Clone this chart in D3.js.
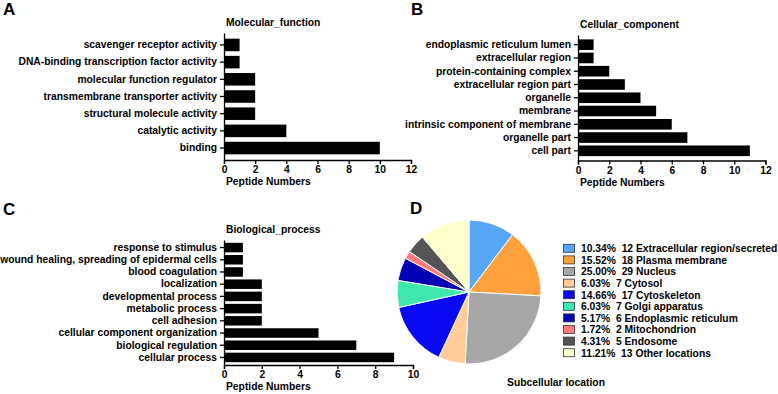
<!DOCTYPE html>
<html>
<head>
<meta charset="utf-8">
<script src="https://cdn.jsdelivr.net/npm/d3@7"></script>
<style>
body{margin:0;background:#fff;}
svg text{font-family:"Liberation Sans",Arial,sans-serif;font-weight:bold;fill:#000;}
.axis path,.axis line{stroke:#000;stroke-width:1.3;}
.axis text{font-size:10.3px;}
</style>
</head>
<body>
<svg id="chart" width="778" height="394"></svg>
<script>
var mfCats=["scavenger receptor activity","DNA-binding transcription factor activity","molecular function regulator","transmembrane transporter activity","structural molecule activity","catalytic activity","binding"];
var mfVals=[1,1,2,2,2,4,10];
var ccCats=["endoplasmic reticulum lumen","extracellular region","protein-containing complex","extracellular region part","organelle","membrane","intrinsic component of membrane","organelle part","cell part"];
var ccVals=[1,1,2,3,4,5,6,7,11];
var bpCats=["response to stimulus","wound healing, spreading of epidermal cells","blood coagulation","localization","developmental process","metabolic process","cell adhesion","cellular component organization","biological regulation","cellular process"];
var bpVals=[1,1,1,2,2,2,2,5,7,9];
var locNames=["Extracellular region/secreted","Plasma membrane","Nucleus","Cytosol","Cytoskeleton","Golgi apparatus","Endoplasmic reticulum","Mitochondrion","Endosome","Other locations"];
var locCounts=[12,18,29,7,17,7,6,2,5,13];
var locPct=["10.34%","15.52%","25.00%","6.03%","14.66%","6.03%","5.17%","1.72%","4.31%","11.21%"];
var locColors=["#58a6f8","#ffa23e","#a7a7aa","#ffcc99","#0a0af2","#3ee8ad","#0202b4","#ff7a7a","#545454","#ffffcc"];

var svg=d3.select("#chart");

function barPanel(cats,vals,o) {
	var x=d3.scaleLinear().domain([0,o.max]).range([o.x0,o.x1]);
	var y=d3.scaleBand().domain(cats).range([o.y0,o.y1]).paddingInner(o.pi).paddingOuter(o.po);
	var g=svg.append("g");
	g.selectAll("rect").data(vals).enter().append("rect")
		.attr("x",o.x0)
		.attr("y",(d,i)=>y(cats[i]))
		.attr("width",d=>x(d)-o.x0)
		.attr("height",y.bandwidth())
		.attr("fill","#000");
	g.append("g").attr("class","axis").attr("transform","translate("+o.x0+",0)")
		.call(d3.axisLeft(y).tickSize(4).tickSizeOuter(0).tickPadding(3));
	g.append("g").attr("class","axis").attr("transform","translate(0,"+o.y1+")")
		.call(d3.axisBottom(x).ticks(o.max/2).tickSize(4).tickSizeOuter(4).tickPadding(2));
	g.selectAll(".axis text").style("font-size","10.3px");
	g.append("text").attr("x",o.x0+2).attr("y",o.y0-7).style("font-size","10.3px").text(o.title);
	g.append("text").attr("x",o.x0+2).attr("y",o.y1+25).style("font-size","10.3px").text("Peptide Numbers");
}

barPanel(mfCats,mfVals,{max:12,x0:224,x1:411,y0:33,y1:160,pi:0.27,po:0.33,title:"Molecular_function"});
barPanel(ccCats,ccVals,{max:12,x0:578,x1:765.5,y0:35,y1:160.5,pi:0.2,po:0.33,title:"Cellular_component"});
barPanel(bpCats,bpVals,{max:10,x0:224,x1:413,y0:240,y1:365,pi:0.22,po:0.23,title:"Biological_process"});

// pie
var pie=d3.pie().sort(null).value(d=>d);
var arc=d3.arc().innerRadius(0).outerRadius(72);
svg.append("g").attr("transform","translate(469,292)")
	.selectAll("path").data(pie(locCounts)).enter().append("path")
	.attr("d",arc)
	.attr("fill",(d,i)=>locColors[i])
	.attr("stroke","#fff")
	.attr("stroke-width",1);

var leg=svg.append("g").attr("transform","translate(563.5,248.3)");
var row=leg.selectAll("g").data(locNames).enter().append("g")
	.attr("transform",(d,i)=>"translate(0,"+(i*11.6)+")");
row.append("rect").attr("x",0).attr("y",-4).attr("width",11).attr("height",8)
	.attr("fill",(d,i)=>locColors[i]).attr("stroke","#333").attr("stroke-width",0.8);
row.append("text").attr("x",17.5).attr("y",3.8).style("font-size","10.3px").style("white-space","pre")
	.text((d,i)=>locPct[i]+"  "+locCounts[i]+" "+d);

svg.append("text").attr("x",556).attr("y",386).attr("text-anchor","middle").style("font-size","10.3px").text("Subcellular location");

// panel letters
[["A",3,15],["B",411,15],["C",3,215],["D",410,214]].forEach(function(p){
	svg.append("text").attr("x",p[1]).attr("y",p[2]).style("font-size","17px").text(p[0]);
});
</script>
</body>
</html>
